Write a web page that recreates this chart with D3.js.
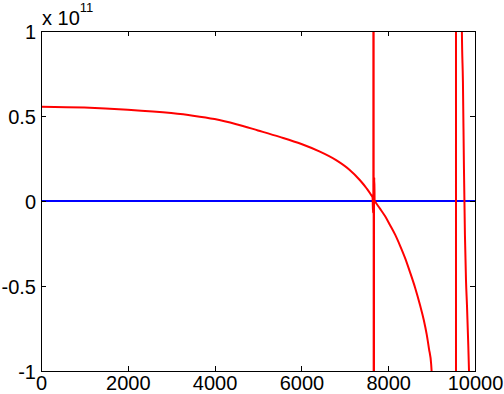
<!DOCTYPE html>
<html>
<head>
<meta charset="utf-8">
<script src="https://cdn.jsdelivr.net/npm/d3@7/dist/d3.min.js"></script>
<style>
	html, body { margin: 0; padding: 0; background: #fff; }
	svg { display: block; }
	text { font-family: "Liberation Sans", Arial, Helvetica, sans-serif; fill: #000; }
</style>
</head>
<body>
<script>
// tick labels
var xTicks = [0, 2000, 4000, 6000, 8000, 10000];
var yTicks = [-1, -0.5, 0, 0.5, 1];
var yExponent = "11";

// red series, y in units of 1e11 (values far outside +-1 are the poles, clipped)
var redX = [0, 1000, 2000, 3000, 3500, 4000, 4500, 5000, 5500, 6000, 6400, 6800, 7100, 7350, 7500, 7600,
	7640, 7650, 7658, 7662, 7668, 7673, 7680, 7688, 7720, 7811, 7930, 8041, 8160, 8272, 8390, 8502, 8620,
	8733, 8820, 8887, 8940, 8990, 9200, 9500, 9560, 9564, 9650, 9698, 9722, 9745, 9768, 9793, 9816, 9839,
	9862, 9900, 10000];
var redY = [0.555, 0.550, 0.537, 0.517, 0.502, 0.482, 0.452, 0.415, 0.377, 0.335, 0.293, 0.240, 0.185, 0.122, 0.075, 0.038,
	0.02, -0.07, 0.03, 60, -60, 0.0, 0.14, 0.0, -0.012, -0.045, -0.090, -0.141, -0.198, -0.262, -0.336, -0.418, -0.510,
	-0.612, -0.700, -0.785, -0.870, -0.960, -4, -40, -500, 500, 5, 1.0, 0.7, 0.2, -0.2, -0.47, -0.62, -0.8,
	-1.0, -1.6, -4];

// blue series: the zero line
var blueX = [0, 10000];
var blueY = [0, 0];

var width = 504, height = 394;
var margin = { top: 31, right: 29, bottom: 23, left: 41 };
var innerW = width - margin.left - margin.right,
	innerH = height - margin.top - margin.bottom;

var svg = d3.select("body").append("svg")
	.attr("width", width)
	.attr("height", height);

var x = d3.scaleLinear().domain([0, 10000]).range([0, innerW]);
var y = d3.scaleLinear().domain([-1, 1]).range([innerH, 0]);

var g = svg.append("g")
	.attr("transform", "translate(" + margin.left + "," + margin.top + ")");

g.append("clipPath").attr("id", "plotClip")
	.append("rect").attr("width", innerW).attr("height", innerH);

var line = d3.line()
	.x(function(d) { return x(d[0]); })
	.y(function(d) { return y(d[1]); })
	.curve(d3.curveMonotoneX);

var plot = g.append("g").attr("clip-path", "url(#plotClip)");

plot.append("path")
	.datum(d3.zip(blueX, blueY))
	.attr("fill", "none")
	.attr("stroke", "#0000ff")
	.attr("stroke-width", 2)
	.attr("d", line);

plot.append("path")
	.datum(d3.zip(redX, redY))
	.attr("fill", "none")
	.attr("stroke", "#ff0000")
	.attr("stroke-width", 2)
	.attr("d", line);

// axes: ticks point inward on all four sides, like a boxed matlab plot
var tickLen = 5;

function styleAxis(sel) {
	sel.select(".domain").remove();
	sel.selectAll(".tick line").attr("stroke", "#000").attr("shape-rendering", "crispEdges");
	sel.selectAll("text").attr("font-size", 20).attr("font-family", null);
}

var xAxis = g.append("g")
	.attr("transform", "translate(0," + innerH + ")")
	.call(d3.axisBottom(x).tickValues(xTicks).tickSizeInner(-tickLen).tickSizeOuter(0)
		.tickFormat(d3.format("d")))
	.call(styleAxis);

// keep the labels' box inside the picture
xAxis.selectAll("text").attr("dy", null).attr("y", 19);

g.append("g")
	.call(d3.axisTop(x).tickValues(xTicks).tickSizeInner(-tickLen).tickSizeOuter(0).tickFormat(""))
	.call(styleAxis);

var yAxis = g.append("g")
	.call(d3.axisLeft(y).tickValues(yTicks).tickSizeInner(-tickLen).tickSizeOuter(0)
		.tickFormat(function(d) { return String(d); }))
	.call(styleAxis);

yAxis.selectAll("text").attr("x", -5).attr("dy", "0.35em");

g.append("g")
	.attr("transform", "translate(" + innerW + ",0)")
	.call(d3.axisRight(y).tickValues(yTicks).tickSizeInner(-tickLen).tickSizeOuter(0).tickFormat(""))
	.call(styleAxis);

// box
g.append("rect")
	.attr("width", innerW)
	.attr("height", innerH)
	.attr("fill", "none")
	.attr("stroke", "#000")
	.attr("stroke-width", 1)
	.attr("shape-rendering", "crispEdges");

// exponent label
var expLabel = svg.append("text")
	.attr("x", margin.left + 1)
	.attr("y", 25)
	.attr("font-size", 20);
expLabel.append("tspan").text("x 10");
expLabel.append("tspan").attr("dy", -13).attr("font-size", 13).text(yExponent);
</script>
</body>
</html>
